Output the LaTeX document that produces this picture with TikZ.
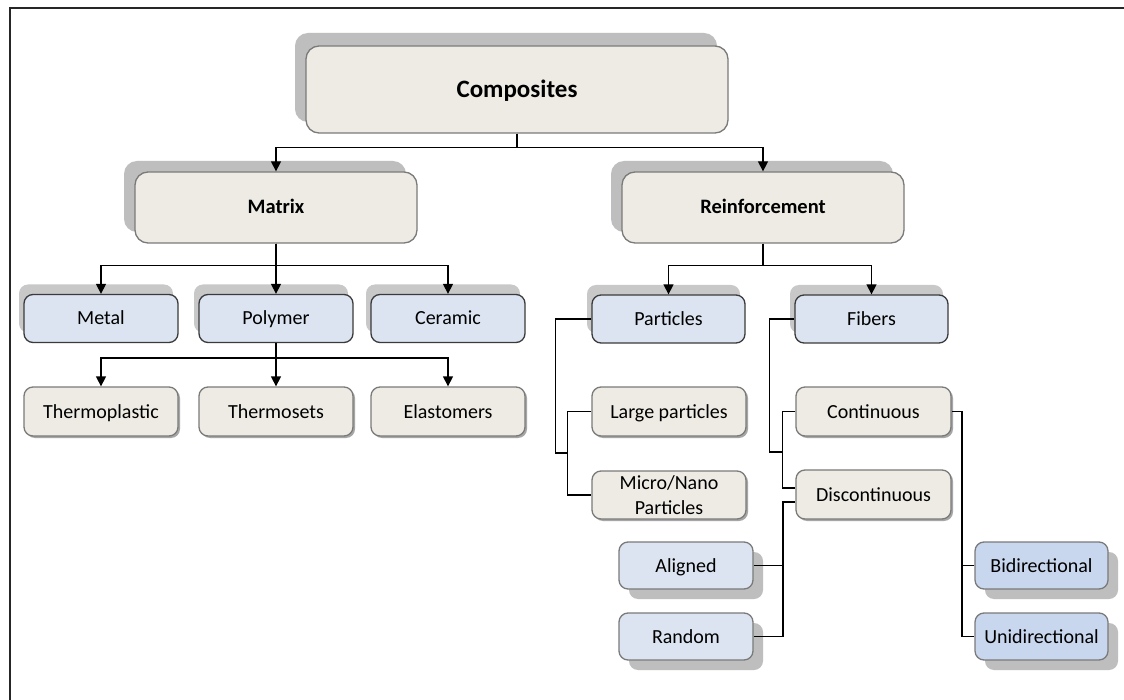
\documentclass[tikz,border=0pt]{standalone}
\usepackage{fontspec}
\setmainfont{Carlito}
\usetikzlibrary{arrows.meta,shadows}
\definecolor{beige}{HTML}{EDEBE3}
\definecolor{lblue}{HTML}{DBE4F0}
\definecolor{mblue}{HTML}{C8D7EE}
\definecolor{shad}{HTML}{BEBEBE}
\definecolor{bord}{HTML}{7A7A7A}
\definecolor{dbord}{HTML}{3A3A3A}
\begin{document}
\begin{tikzpicture}[x=1pt,y=-1pt,
  base/.style={rounded corners=9pt, line width=1.3pt, align=center, inner sep=0pt,
    font=\fontsize{20}{24.5}\selectfont},
  onel/.style={text height=13pt, text depth=0pt},
  bigbox/.style={base, onel, fill=beige, draw=bord, rounded corners=13pt,
    minimum width=282pt, minimum height=71pt,
    font=\fontsize{20.5}{24}\selectfont\bfseries,
    drop shadow={shadow xshift=-11pt, shadow yshift=11pt, fill=shad, opacity=1}},
  bluebox/.style={base, onel, fill=lblue, draw=dbord, minimum width=154pt, minimum height=48pt,
    drop shadow={shadow xshift=-5pt, shadow yshift=10pt, fill=shad!85, opacity=1}},
  beigebase/.style={base, fill=beige, draw=bord, minimum width=154pt, minimum height=49pt,
    drop shadow={shadow xshift=2pt, shadow yshift=-2pt, fill=black!35, opacity=1}},
  beigebox/.style={beigebase, onel},
  lowbox/.style={base, onel, fill=lblue, draw=bord, minimum width=134pt, minimum height=47pt,
    drop shadow={shadow xshift=10pt, shadow yshift=-10pt, fill=shad, opacity=1}},
  arr/.style={line width=1.4pt, -{Triangle[length=10pt,width=10pt]}},
  conn/.style={line width=1.2pt}
]
\useasboundingbox[fill=white] (0,0) rectangle (1124,700);
\draw[line width=2pt, black!85] (10,700) -- (10,8) -- (1124,8);

% level 0
\node[bigbox, minimum width=422pt, minimum height=87pt, text height=16pt,
  font=\fontsize{25}{30}\selectfont\bfseries,
  drop shadow={shadow xshift=-11pt, shadow yshift=13pt, fill=shad, opacity=1}]
  (comp) at (517,89.5) {Composites};

% level 1
\node[bigbox] (matrix) at (276,207.5) {Matrix};
\node[bigbox] (reinf) at (763,207.5) {Reinforcement};

% level 2
\node[bluebox] (metal) at (101,318.5) {Metal};
\node[bluebox] (polymer) at (276,318.5) {Polymer};
\node[bluebox] (ceramic) at (448,318.5) {Ceramic};
\node[bluebox, minimum width=153pt] (particles) at (668.5,319) {Particles};
\node[bluebox, minimum width=153pt] (fibers) at (871.5,319) {Fibers};

% level 3
\node[beigebox] (thermoplastic) at (101,411.5) {Thermoplastic};
\node[beigebox] (thermosets) at (276,411.5) {Thermosets};
\node[beigebox] (elastomers) at (448,411.5) {Elastomers};
\node[beigebox] (large) at (669,411.5) {Large particles};
\node[beigebase, minimum height=48pt] (micro) at (669,495) {Micro/Nano\\Particles};
\node[beigebox, minimum width=155pt] (continuous) at (873.5,411.5) {Continuous};
\node[beigebox, minimum width=155pt] (discont) at (873.5,494.5) {Discontinuous};

% level 4
\node[lowbox] (aligned) at (686,565.5) {Aligned};
\node[lowbox] (random) at (686,636.5) {Random};
\node[lowbox, minimum width=133pt, fill=mblue] (bidir) at (1041.5,565.5) {Bidirectional};
\node[lowbox, minimum width=133pt, fill=mblue] (unidir) at (1041.5,636.5) {Unidirectional};

% arrows
\draw[arr] (comp.south) -- ++(0,14) -| (matrix.north);
\draw[arr] (comp.south) -- ++(0,14) -| (reinf.north);
\draw[arr] (matrix.south) -- ++(0,22) -| (metal.north);
\draw[arr] (matrix.south) -- (polymer.north);
\draw[arr] (matrix.south) -- ++(0,22) -| (ceramic.north);
\draw[arr] (polymer.south) -- ++(0,15) -| (thermoplastic.north);
\draw[arr] (polymer.south) -- (thermosets.north);
\draw[arr] (polymer.south) -- ++(0,15) -| (elastomers.north);
\draw[arr] (reinf.south) -- ++(0,22) -| (particles.north);
\draw[arr] (reinf.south) -- ++(0,22) -| (fibers.north);

% brackets
\coordinate (pk) at (568,453);
\coordinate (fk) at (783,452);
\coordinate (dv) at (783,502);
\coordinate (cv) at (962,411.5);
\draw[conn] (particles.west) -- ++(-36,0) |- (pk);
\draw[conn] (large.west) -- ++(-24,0) |- (micro.west);
\draw[conn] (fibers.west) -- ++(-25,0) |- (fk);
\draw[conn] (continuous.west) -- ++(-13,0) |- ([yshift=6.5pt]discont.west);
\draw[conn] ([yshift=-7.5pt]discont.west) -- (dv) |- (random.east);
\draw[conn] (aligned.east) -- (aligned.east -| dv);
\draw[conn] (continuous.east) -- (cv) |- (unidir.west);
\draw[conn] (bidir.west) -- (bidir.west -| cv);
\end{tikzpicture}
\end{document}
